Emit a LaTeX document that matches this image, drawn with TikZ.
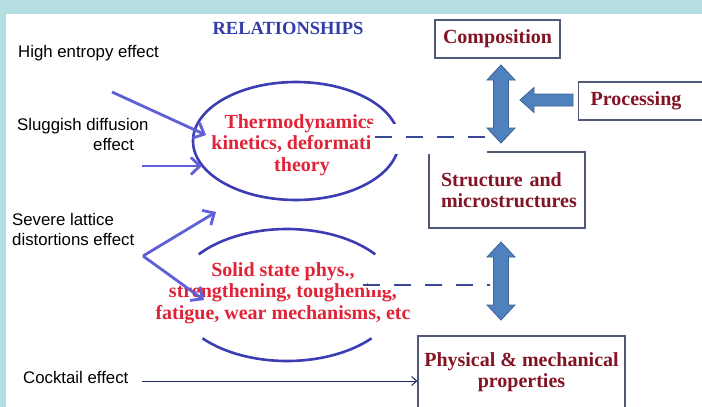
\documentclass[tikz,border=0pt]{standalone}
\usepackage{fontspec}
\setmainfont{Liberation Serif}
\newfontfamily\arialfont{Liberation Sans}
\usetikzlibrary{arrows.meta}
\definecolor{slidebg}{RGB}{180,222,225}
\definecolor{pushblue}{RGB}{95,95,215}
\definecolor{ringblue}{RGB}{60,60,180}
\definecolor{fieldred}{RGB}{225,35,55}
\definecolor{propred}{RGB}{130,20,35}
\definecolor{headblue}{RGB}{50,60,170}
\definecolor{boxgrey}{RGB}{80,90,120}
\definecolor{blockblue}{RGB}{79,129,189}
\definecolor{blockedge}{RGB}{60,100,150}
\definecolor{dashblue}{RGB}{60,70,150}
\tikzset{
  effect label/.style={
    font=\arialfont\fontsize{16.8}{20}\selectfont,
    anchor=west, align=left, inner sep=0pt
  },
  field text/.style={
    font=\bfseries\fontsize{20}{21.5}\selectfont,
    text=fieldred, align=center, inner sep=0pt
  },
  prop box/.style={
    draw=boxgrey, line width=1.3pt, fill=white,
    font=\bfseries\fontsize{20}{21}\selectfont, text=propred
  },
  push/.style={
    draw=pushblue, line width=2.8pt,
    -{Straight Barb[length=9pt,width=17pt]}
  },
  ring/.style={draw=ringblue, line width=2.6pt},
  link/.style={draw=dashblue, line width=1.8pt, dash pattern=on 17pt off 14pt},
  blockarrow/.style={fill=blockblue, draw=blockedge, line width=0.8pt},
  cover/.style={fill=white, draw=none}
}
\begin{document}
\begin{tikzpicture}[x=1pt,y=-1pt]
\useasboundingbox (0,0) rectangle (702,407);
\fill[slidebg] (0,0) rectangle (702,407);
\fill[white] (6,14) rectangle (702,407);

% left column
\node (rel) [font=\bfseries\fontsize{18.5}{20}\selectfont, text=headblue, inner sep=0pt] at (288,28) {RELATIONSHIPS};
\node (entropy) [effect label] at (18,53) {High entropy effect};
\node (sluggish) [effect label] at (17,134) {Sluggish diffusion\\\hspace{76pt}effect};
\node (lattice) [effect label] at (12,229) {Severe lattice\\distortions effect};
\node (cocktail) [effect label] at (23,377) {Cocktail effect};

% boxes
\node (comp) [prop box, minimum width=125pt, minimum height=38pt] at (497.5,39) {Composition};
\node (proc) [prop box, anchor=west, minimum width=170pt, minimum height=38pt,
  text width=146pt, inner xsep=12pt, align=left] at (578,101) {Processing};
\node (struct) [prop box, minimum width=156pt, minimum height=76pt,
  text width=132pt, inner xsep=12pt, align=left] at (507,190) {Structure and\\microstructures};
\node (phys) [prop box, minimum width=207pt, minimum height=72pt, align=center] at (521.5,372)
  {Physical \& mechanical\\properties};

% fields
\coordinate (upperc) at (296,141);
\draw[ring] (upperc) ellipse (103 and 59);
\node (thermo) [field text] at (302,145) {Thermodynamics,\\kinetics, deformation\\theory};

\coordinate (lowerc) at (287,295);
\draw[ring] (lowerc) ++(218:112 and 66) arc[start angle=218, end angle=322, x radius=112, y radius=66];
\draw[ring] (lowerc) ++(41:112 and 66) arc[start angle=41, end angle=139, x radius=112, y radius=66];
\node (solid) [field text] at (283,293) {Solid state phys.,\\strengthening, toughening,\\fatigue, wear mechanisms, etc};

% effects
\coordinate (e1) at (112,92);
\coordinate (t1) at (206,135);
\coordinate (e2) at (142,166);
\coordinate (t2) at (202,166);
\coordinate (v) at (143,256);
\coordinate (t3) at (216,212);
\coordinate (t4) at (204,300);
\draw[push] (e1) -- (t1);
\draw[push] (e2) -- (t2);
\draw[push] (v) -- (t3);
\draw[push] (v) -- (t4);
\coordinate (cstart) at (142,381);
\draw[draw={rgb,255:red,30;green,45;blue,95}, line width=1pt, -{Straight Barb[length=5pt,width=9pt]}]
  (cstart) -- (cstart -| phys.west);

% white patches
\fill[cover] (370,124) rectangle (487,153.5);
\fill[cover] (368,277) rectangle (490,290);

% dashed links
\coordinate (d1) at (375,137);
\coordinate (d2) at (363,285);
\draw[link] (d1) -- (d1 -| 492,0);
\draw[link] (d2) -- (d2 -| 490,0);

% block arrows
\draw[blockarrow] (501,65) -- (515,80) -- (508.5,80) -- (508.5,128) -- (515,128) -- (501,143)
  -- (487,128) -- (493.5,128) -- (493.5,80) -- (487,80) -- cycle;
\draw[blockarrow] (501,242) -- (515,257) -- (508.5,257) -- (508.5,305) -- (515,305) -- (501,320)
  -- (487,305) -- (493.5,305) -- (493.5,257) -- (487,257) -- cycle;
\draw[blockarrow] (520,100) -- (534,87.5) -- (534,94) -- (573,94) -- (573,106) -- (534,106)
  -- (534,112.5) -- cycle;
\end{tikzpicture}
\end{document}
